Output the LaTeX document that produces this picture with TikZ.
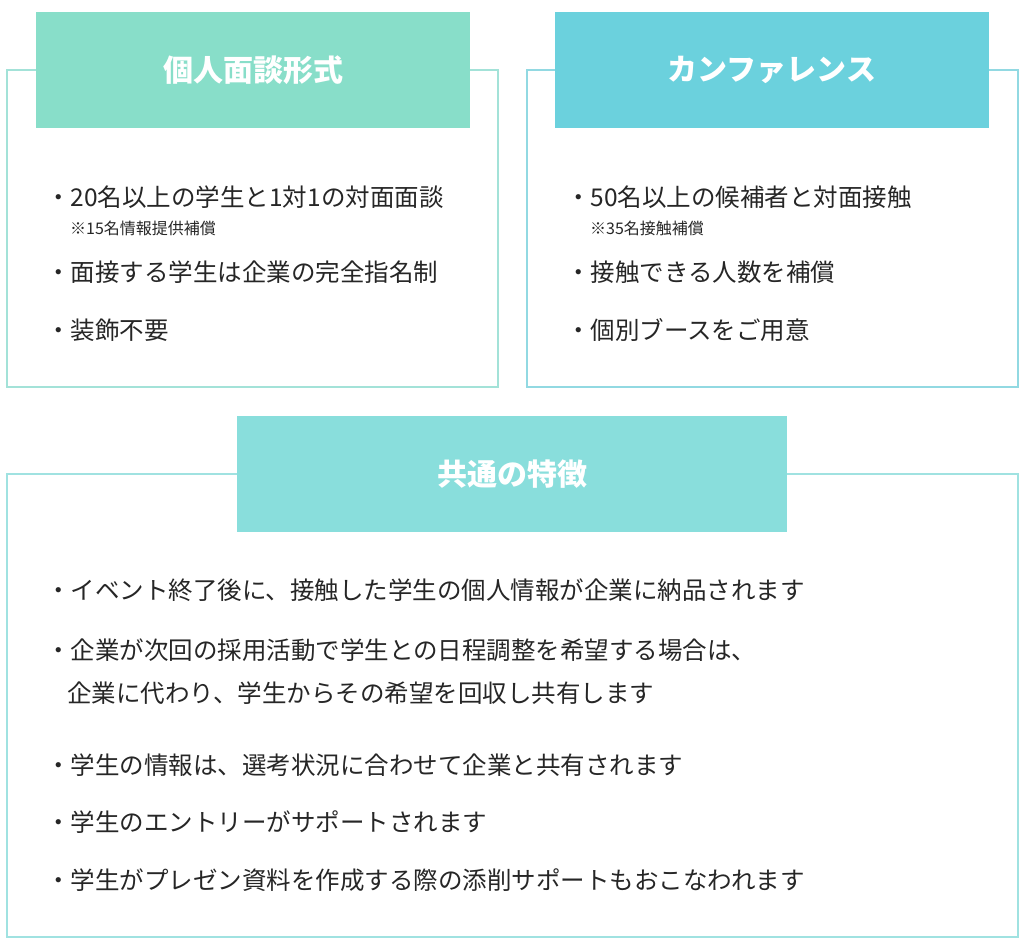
\documentclass[tikz,border=0pt]{standalone}
\usepackage{fontspec}
\setmainfont{Noto Sans CJK JP}
\begin{document}
\begin{tikzpicture}[x=1pt,y=-1pt,
  frame/.style={draw=#1,line width=1.5pt},
  head/.style={fill=#1,draw=none},
  htext/.style={text=white,font=\fontsize{30}{34}\selectfont\bfseries},
  item/.style={anchor=west,inner sep=0pt,text=black!85,font=\fontsize{24.5}{29}\selectfont},
  note/.style={anchor=west,inner sep=0pt,text=black!85,font=\fontsize{16}{19}\selectfont}]
\definecolor{gA}{HTML}{88DEC9}
\definecolor{gB}{HTML}{6BD1DD}
\definecolor{gC}{HTML}{89DEDC}
\definecolor{bA}{HTML}{A3E2D8}
\definecolor{bB}{HTML}{92D9E2}
\definecolor{bC}{HTML}{A0E2E1}
\useasboundingbox (0,0) rectangle (1024,946);
\draw[frame=bA] (7,70) rectangle (498,387);
\fill[head=gA] (36,12) rectangle (470,128);
\node[htext] (h1) at (253,70) {個人面談形式};
\draw[frame=bB] (527,70) rectangle (1018,387);
\fill[head=gB] (555,12) rectangle (989,128);
\node[htext] (h2) at (772,70) {カンファレンス};
\draw[frame=bC] (7,474) rectangle (1018,937);
\fill[head=gC] (237,416) rectangle (787,532);
\node[htext] (h3) at (512,474) {共通の特徴};
\node[item] (a1) at (46,197) {・20名以上の学生と1対1の対面面談};
\node[note] (a1n) at (70,228) {※15名情報提供補償};
\node[item] (a2) at (46,272) {・面接する学生は企業の完全指名制};
\node[item] (a3) at (46,330) {・装飾不要};
\node[item] (b1) at (566,197) {・50名以上の候補者と対面接触};
\node[note] (b1n) at (590,228) {※35名接触補償};
\node[item] (b2) at (566,272) {・接触できる人数を補償};
\node[item] (b3) at (566,330) {・個別ブースをご用意};
\node[item] (c1) at (46,590) {・イベント終了後に、接触した学生の個人情報が企業に納品されます};
\node[item] (c2) at (46,650) {・企業が次回の採用活動で学生との日程調整を希望する場合は、};
\node[item] (c2b) at (67,693) {企業に代わり、学生からその希望を回収し共有します};
\node[item] (c3) at (46,765) {・学生の情報は、選考状況に合わせて企業と共有されます};
\node[item] (c4) at (46,822) {・学生のエントリーがサポートされます};
\node[item] (c5) at (46,880) {・学生がプレゼン資料を作成する際の添削サポートもおこなわれます};
\end{tikzpicture}
\end{document}
